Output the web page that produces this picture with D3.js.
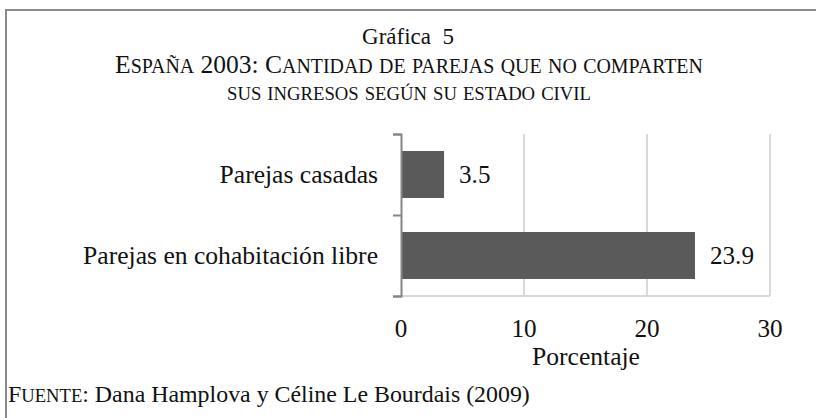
<!DOCTYPE html>
<html>
  <head>
    <meta charset="utf-8">
    <script src="https://cdn.jsdelivr.net/npm/d3@7"></script>
    <style>
      body { margin: 0; background: #fff; }
      svg text { font-family: "Liberation Serif", "DejaVu Serif", serif; fill: #111; }
    </style>
  </head>
<body>
  <script type="text/javascript">

  // data
  var categories = ["Parejas casadas", "Parejas en cohabitación libre"];
  var values = [3.5, 23.9];
  var xTicks = [0, 10, 20, 30];

  var titleMain = "Gráfica  5";
  var titleLines = ["España 2003: Cantidad de parejas que no comparten",
                    "sus ingresos según su estado civil"];
  var xTitle = "Porcentaje";
  var sourceLabel = "Fuente";
  var sourceText = ": Dana Hamplova y Céline Le Bourdais (2009)";

  var width = 816, height = 418;

  var svg = d3.select("body")
    .append("svg")
      .attr("width", width)
      .attr("height", height);

  // scale a text's font-size so it spans the width seen in the reference
  function fitWidth(sel, target) {
    var fs = +sel.attr("font-size");
    var w = sel.node().getComputedTextLength();
    sel.attr("font-size", fs * target / w);
  }

  // fake small caps: lower case letters drawn as smaller capitals
  function smallCaps(sel, str) {
    var runs = str.match(/[^a-zñáéíóúü]+|[a-zñáéíóúü]+/g);
    runs.forEach(function(r){
      var t = sel.append("tspan").text(r.toUpperCase());
      if (r.toUpperCase() !== r) t.attr("font-size", "0.78em");
    });
  }

  // outer frame (runs off the right and bottom edge)
  svg.append("rect")
    .attr("x", 6).attr("y", 10)
    .attr("width", 830).attr("height", 430)
    .attr("fill", "none")
    .attr("stroke", "#8a8a8a")
    .attr("stroke-width", 2);

  // titles
  var t0 = svg.append("text")
    .attr("x", 408).attr("y", 44)
    .attr("text-anchor", "middle")
    .attr("font-size", 21)
    .style("white-space", "pre")
    .text(titleMain);
  fitWidth(t0, 92);

  var subWidths = [588, 364];
  titleLines.forEach(function(line, i){
    var t = svg.append("text")
      .attr("x", 409)
      .attr("y", 73 + i * 27)
      .attr("text-anchor", "middle")
      .attr("font-size", 20);
    smallCaps(t, line);
    fitWidth(t, subWidths[i]);
  });

  // chart area
  var left = 401, right = 770, plotTop = 134, plotBottom = 296;

  var x = d3.scaleLinear().domain([0, 30]).range([left, right]);
  var y = d3.scaleBand().domain(categories).range([plotTop, plotBottom])
    .paddingInner(0.42).paddingOuter(0.21);

  // grid lines
  svg.selectAll(".grid")
    .data(xTicks.slice(1))
    .enter().append("line")
      .attr("class", "grid")
      .attr("x1", function(d){ return x(d); })
      .attr("x2", function(d){ return x(d); })
      .attr("y1", plotTop).attr("y2", plotBottom)
      .attr("stroke", "#d9d9d9")
      .attr("stroke-width", 2);

  svg.append("line")
    .attr("x1", left).attr("x2", right)
    .attr("y1", plotBottom).attr("y2", plotBottom)
    .attr("stroke", "#d9d9d9")
    .attr("stroke-width", 2);

  // bars
  svg.selectAll(".bar")
    .data(values)
    .enter().append("rect")
      .attr("class", "bar")
      .attr("x", x(0))
      .attr("y", function(d, i){ return y(categories[i]); })
      .attr("width", function(d){ return x(d) - x(0); })
      .attr("height", y.bandwidth())
      .attr("fill", "#5a5a5a");

  // category axis with ticks between the bands
  var yAxis = d3.axisLeft(d3.scalePoint().domain([0, 1, 2]).range([plotTop, plotBottom]))
    .tickSize(8).tickSizeOuter(8).tickFormat("");
  var gy = svg.append("g")
    .attr("transform", "translate(" + left + ",0)")
    .call(yAxis);
  gy.selectAll("path, line").attr("stroke", "#868686").attr("stroke-width", 2);

  // value labels
  var vals = svg.selectAll(".val")
    .data(values)
    .enter().append("text")
      .attr("class", "val")
      .attr("x", function(d){ return x(d) + 15; })
      .attr("y", function(d, i){ return y(categories[i]) + y.bandwidth() / 2; })
      .attr("dy", "0.35em")
      .attr("font-size", 20)
      .text(function(d){ return d.toFixed(1); });
  fitWidth(d3.select(vals.nodes()[1]), 44);
  vals.attr("font-size", d3.select(vals.nodes()[1]).attr("font-size"));

  var cats = svg.selectAll(".cat")
    .data(categories)
    .enter().append("text")
      .attr("class", "cat")
      .attr("x", 378)
      .attr("y", function(d){ return y(d) + y.bandwidth() / 2; })
      .attr("dy", "0.35em")
      .attr("text-anchor", "end")
      .attr("font-size", 20)
      .text(function(d){ return d; });
  fitWidth(d3.select(cats.nodes()[1]), 295);
  cats.attr("font-size", d3.select(cats.nodes()[1]).attr("font-size"));

  // value axis labels
  var xt = svg.selectAll(".xt")
    .data(xTicks)
    .enter().append("text")
      .attr("class", "xt")
      .attr("x", function(d){ return x(d); })
      .attr("y", 337)
      .attr("text-anchor", "middle")
      .attr("font-size", vals.attr("font-size"))
      .text(function(d){ return d; });

  var xl = svg.append("text")
    .attr("x", 586).attr("y", 365)
    .attr("text-anchor", "middle")
    .attr("font-size", 20)
    .text(xTitle);
  fitWidth(xl, 108);

  // source note
  var src = svg.append("text")
    .attr("x", 8).attr("y", 402)
    .attr("font-size", 18);
  smallCaps(src, sourceLabel);
  src.append("tspan").text(sourceText);
  fitWidth(src, 522);

  </script>
</body>
</html>
